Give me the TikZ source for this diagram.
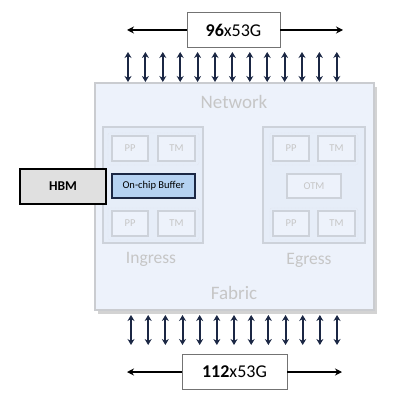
\documentclass[tikz,border=0pt]{standalone}
\usepackage{fontspec}
\setmainfont{Carlito}
\usetikzlibrary{shadows, arrows.meta}

\definecolor{chipfill}{HTML}{EDF2FB}
\definecolor{chipline}{HTML}{CACCD0}
\definecolor{blockfill}{HTML}{E6EDF8}
\definecolor{blockline}{HTML}{CDD2DA}
\definecolor{fadetext}{HTML}{C6C6C6}
\definecolor{buffill}{HTML}{B5D2F2}
\definecolor{navy}{HTML}{1B2744}

\tikzset{
    lane/.style = {navy, line width = 2pt, {Stealth[length=6pt,width=7pt]}-{Stealth[length=6pt,width=7pt]}},
    portbox/.style = {draw = black!55, fill = white, minimum height = 35pt, font = \fontsize{18}{18}\selectfont},
    unit/.style = {draw = blockline, line width = 1.2pt, fill = chipfill, minimum width = 36pt, minimum height = 25pt, text = fadetext, font = \fontsize{10.5}{10.5}\selectfont},
    pair/.style = {draw = blockline!70, densely dotted, rounded corners = 2pt, minimum width = 91pt, minimum height = 32pt},
    block/.style = {draw = blockline, line width = 1.2pt, fill = blockfill, minimum width = 100pt, minimum height = 116pt},
    faint/.style = {text = fadetext, font = \fontsize{19}{19}\selectfont}
}

\begin{document}
\begin{tikzpicture}[x = 1pt, y = -1pt]

    \useasboundingbox (0, 0) rectangle (400, 403);

    % chip
    \node[draw = chipline, line width = 1.2pt, fill = chipfill, minimum width = 279pt, minimum height = 227pt,
          drop shadow = {shadow xshift = 3pt, shadow yshift = -4pt, opacity = 0.35}] (chip) at (234.5, 196.5) {};
    \node[faint] (net) at (234, 102) {Network};
    \node[faint] (fab) at (234, 293) {Fabric};

    % ingress and egress blocks
    \node[block] (ing) at (153, 185) {};
    \node[block, minimum width = 102pt] (egr) at (314, 185) {};
    \node[faint, font = \fontsize{17.5}{17.5}\selectfont] (inglbl) at (151, 259) {Ingress};
    \node[faint, font = \fontsize{17.5}{17.5}\selectfont] (egrlbl) at (309, 260) {Egress};

    \node[pair] (ingtop) at (153.5, 149) {};
    \node[pair] (ingbot) at (153.5, 224) {};
    \node[pair, minimum width = 88pt] (egrtop) at (314, 149) {};
    \node[pair, minimum width = 88pt] (egrbot) at (314, 224) {};

    \node[unit] (ipp1) at (130, 148.5) {PP};
    \node[unit, minimum width = 37pt] (itm1) at (176.5, 148.5) {TM};
    \node[unit] (ipp2) at (130, 223.5) {PP};
    \node[unit, minimum width = 37pt] (itm2) at (176.5, 223.5) {TM};

    \node[unit] (epp1) at (291, 148.5) {PP};
    \node[unit, minimum width = 37pt] (etm1) at (336.5, 148.5) {TM};
    \node[unit] (epp2) at (291, 223.5) {PP};
    \node[unit, minimum width = 37pt] (etm2) at (336.5, 223.5) {TM};
    \node[unit, minimum width = 54pt, minimum height = 24pt] (otm) at (314, 186) {OTM};

    % buffer and memory
    \node[draw = navy, line width = 1.1pt, fill = buffill, minimum width = 83pt, minimum height = 24pt,
          font = \fontsize{10.5}{10.5}\selectfont] (buf) at (153.5, 186) {On-chip Buffer};
    \node[draw = black, line width = 1.1pt, fill = black!12, minimum width = 86pt, minimum height = 35pt,
          font = \bfseries\fontsize{13.5}{13.5}\selectfont] (hbm) at (63, 186.5) {HBM};

    % serdes lanes
    \foreach \i in {0, ..., 12} {
        \coordinate (ta\i) at (128 + 17.4*\i, 52);
        \coordinate (tb\i) at (128 + 17.4*\i, 82);
        \draw[lane] (ta\i) -- (tb\i);
        \coordinate (ba\i) at (131 + 17.17*\i, 315);
        \coordinate (bb\i) at (131 + 17.17*\i, 345);
        \draw[lane] (ba\i) -- (bb\i);
    }

    % port counts
    \node[portbox, minimum width = 93pt] (top) at (233.5, 30) {\textbf{96}x53G};
    \coordinate (topl) at (127, 30);
    \coordinate (topr) at (343, 30);
    \draw[line width = 1.3pt, -{Stealth[length=7pt,width=7pt]}] (top) -- (topl);
    \draw[line width = 1.3pt, -{Stealth[length=7pt,width=7pt]}] (top) -- (topr);

    \node[portbox, minimum width = 105pt] (bot) at (234.5, 372) {\textbf{112}x53G};
    \coordinate (botl) at (127, 372);
    \coordinate (botr) at (342, 372);
    \draw[line width = 1.3pt, -{Stealth[length=7pt,width=7pt]}] (bot) -- (botl);
    \draw[line width = 1.3pt, -{Stealth[length=7pt,width=7pt]}] (bot) -- (botr);

\end{tikzpicture}
\end{document}
